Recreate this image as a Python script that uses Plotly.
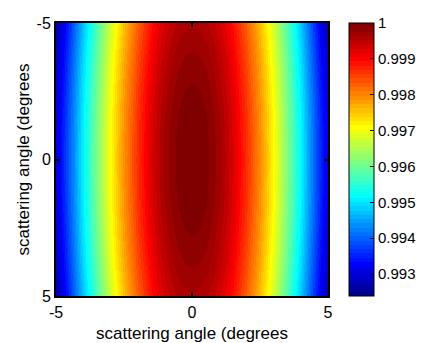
import numpy as np
import plotly.graph_objects as go

# Scattering angle grid (degrees)
x_deg = [-5.0, -4.5, -4.0, -3.5, -3.0, -2.5, -2.0, -1.5, -1.25, -1.0, -0.75,
         -0.5, -0.25, 0.0, 0.25, 0.5, 0.75, 1.0, 1.25, 1.5, 2.0, 2.5, 3.0,
         3.5, 4.0, 4.5, 5.0]
y_deg = [-5.0, -4.5, -4.0, -3.5, -3.0, -2.5, -2.0, -1.5, -1.0, -0.5, 0.0,
         0.5, 1.0, 1.5, 2.0, 2.5, 3.0, 3.5, 4.0, 4.5, 5.0]

# Value along the horizontal centre line (y = 0)
row_center = [0.99300, 0.99403, 0.99512, 0.99614, 0.99708, 0.99794, 0.99868,
              0.99926, 0.99950, 0.99969, 0.999831, 0.999925, 0.999981, 1.00000,
              0.999981, 0.999925, 0.999831, 0.99969, 0.99950, 0.99926,
              0.99868, 0.99794, 0.99708, 0.99614, 0.99512, 0.99403, 0.99300]

# Drop relative to the centre line for each row
row_drop = [-0.000375, -0.000304, -0.00024, -0.000184, -0.000135, -0.000094,
            -0.00006, -0.000034, -0.000015, -0.000004, 0.0,
            -0.000004, -0.000015, -0.000034, -0.00006, -0.000094,
            -0.000135, -0.000184, -0.00024, -0.000304, -0.000375]

z = [[v + d for v in row_center] for d in row_drop]

c_min, c_max = 0.99239, 1.0
cbar_ticks = [0.993, 0.994, 0.995, 0.996, 0.997, 0.998, 0.999, 1.0]
cbar_text = ["0.993", "0.994", "0.995", "0.996", "0.997", "0.998", "0.999", "1"]


def jet(m=64):
    n = int(np.ceil(m / 4))
    u = np.concatenate([np.arange(1, n + 1) / n, np.ones(n - 1), np.arange(n, 0, -1) / n])
    g = int(np.ceil(n / 2)) - (1 if m % 4 == 1 else 0) + np.arange(1, len(u) + 1)
    r = g + n
    b = g - n
    J = np.zeros((m, 3))
    for idx, val in zip(r, u):
        if 1 <= idx <= m:
            J[idx - 1, 0] = val
    for idx, val in zip(g, u):
        if 1 <= idx <= m:
            J[idx - 1, 1] = val
    for idx, val in zip(b, u):
        if 1 <= idx <= m:
            J[idx - 1, 2] = val
    return J


cmap = jet(64)
colorscale = []
for i, c in enumerate(cmap):
    col = "rgb(%d,%d,%d)" % tuple(int(round(255 * t)) for t in c)
    colorscale.append([i / 64, col])
    colorscale.append([(i + 1) / 64, col])

font_family = "Liberation Sans, Arial, Helvetica, sans-serif"

fig = go.Figure(go.Heatmap(
    x=x_deg, y=y_deg, z=z,
    zmin=c_min, zmax=c_max,
    zsmooth="best",
    colorscale=colorscale,
    colorbar=dict(
        x=1.073, xanchor="left", xpad=0,
        y=0.5, yanchor="middle", len=1.0, lenmode="fraction", ypad=0,
        thickness=25, thicknessmode="pixels",
        outlinewidth=1, outlinecolor="black",
        tickvals=cbar_ticks, ticktext=cbar_text,
        ticks="inside", ticklen=4, tickcolor="black",
        tickfont=dict(family=font_family, size=15, color="black"),
    ),
))

fig.update_xaxes(
    range=[-5, 5], tickvals=[-5, 0, 5], ticktext=["-5", "0", "5"],
    ticks="inside", ticklen=4, tickwidth=2, tickcolor="black",
    showline=True, linewidth=2, linecolor="black", mirror="ticks",
    showgrid=False, zeroline=False, ticklabelstandoff=1, automargin=False,
    tickfont=dict(family=font_family, size=16, color="black"),
    title=dict(text="scattering angle (degrees", standoff=14,
               font=dict(family=font_family, size=17, color="black")),
)
fig.update_yaxes(
    range=[5, -5], tickvals=[-5, 0, 5], ticktext=["-5", "0", "5"],
    ticks="inside", ticklen=4, tickwidth=2, tickcolor="black",
    showline=True, linewidth=2, linecolor="black", mirror="ticks",
    showgrid=False, zeroline=False, automargin=False,
    tickfont=dict(family=font_family, size=16, color="black"),
    title=dict(text="scattering angle (degrees", standoff=3,
               font=dict(family=font_family, size=17, color="black")),
)

fig.update_layout(
    width=431, height=343,
    margin=dict(l=56, r=102, t=23, b=47),
    paper_bgcolor="white", plot_bgcolor="white",
)

fig.write_html("out.html")
